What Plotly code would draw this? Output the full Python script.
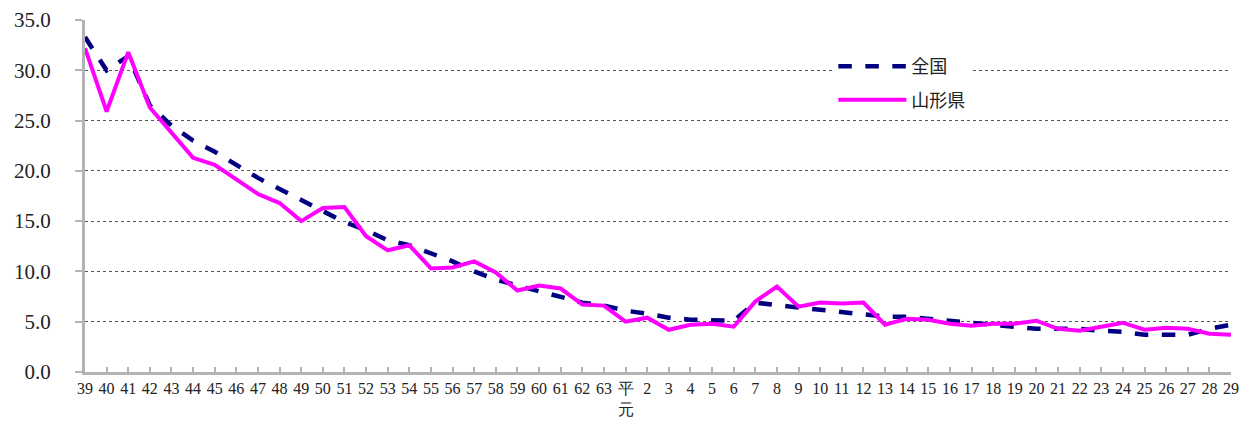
import plotly.graph_objects as go

categories = [str(y) for y in range(39, 64)] + ["平<br>元"] + [str(y) for y in range(2, 30)]

national = [33.3, 30.0, 31.4, 26.5, 24.5, 23.0, 21.9, 20.6, 19.3, 18.2,
            17.1, 16.1, 14.9, 14.1, 13.1, 12.6, 11.8, 11.0, 10.0, 9.2,
            8.6, 8.0, 7.5, 6.9, 6.6, 6.1, 5.8, 5.4, 5.2, 5.2,
            5.1, 6.9, 6.6, 6.4, 6.2, 6.0, 5.8, 5.5, 5.5, 5.3,
            5.0, 4.8, 4.7, 4.5, 4.3, 4.3, 4.3, 4.1, 4.0, 3.7,
            3.7, 3.7, 4.3, 4.7]

yamagata = [32.2, 25.9, 31.8, 26.3, 23.8, 21.3, 20.6, 19.1, 17.7, 16.8,
            15.0, 16.3, 16.4, 13.5, 12.1, 12.6, 10.3, 10.4, 11.0, 9.9,
            8.1, 8.6, 8.3, 6.7, 6.6, 5.0, 5.4, 4.2, 4.7, 4.8,
            4.5, 7.0, 8.5, 6.5, 6.9, 6.8, 6.9, 4.7, 5.3, 5.2,
            4.8, 4.6, 4.8, 4.8, 5.1, 4.3, 4.1, 4.5, 4.9, 4.2,
            4.4, 4.3, 3.8, 3.7]

y_ticks = [0, 5, 10, 15, 20, 25, 30, 35]

fig = go.Figure()
fig.add_trace(go.Scatter(
    x=categories, y=national, name="全国", mode="lines", legendgroup="a",
    line=dict(color="#000080", width=4.5, dash="dash")))
fig.add_trace(go.Scatter(
    x=categories, y=yamagata, name="山形県", mode="lines", legendgroup="b",
    line=dict(color="#FF00FF", width=4)))

serif = "Liberation Serif, DejaVu Serif, serif"

fig.update_layout(
    width=1240, height=423,
    margin=dict(l=85, r=9, t=20, b=51, autoexpand=False),
    plot_bgcolor="white", paper_bgcolor="white",
    showlegend=True,
    legend=dict(x=0.653, y=0.92, xanchor="left", yanchor="top",
                bgcolor="white", borderwidth=0,
                font=dict(family="Noto Sans CJK JP", size=18, color="#222"),
                itemwidth=68, tracegroupgap=7),
)
fig.update_xaxes(
    type="category", range=[0, len(categories) - 1], automargin=False,
    tickangle=0, showgrid=False, ticklabeloverflow="allow",
    showline=True, linecolor="#b3b3b3", linewidth=3,
    ticks="inside", ticklen=5, tickcolor="#b3b3b3", tickwidth=1.5,
    tickfont=dict(family=serif, size=16, color="#222"),
)
fig.update_yaxes(
    range=[0, 35], tickvals=y_ticks, automargin=False,
    ticktext=[f"{v:.1f}" for v in y_ticks],
    showgrid=True, gridcolor="#555", griddash="dot", gridwidth=1,
    showline=True, linecolor="#b3b3b3", linewidth=3,
    ticks="outside", ticklen=7, tickcolor="#b3b3b3", tickwidth=2,
    ticklabelstandoff=20,
    tickfont=dict(family=serif, size=21, color="#222"),
    zeroline=False,
)
fig.write_html(
    "out.html",
    config={"displayModeBar": False},
    post_script="document.body.style.margin='0';document.body.style.overflow='hidden';",
)
